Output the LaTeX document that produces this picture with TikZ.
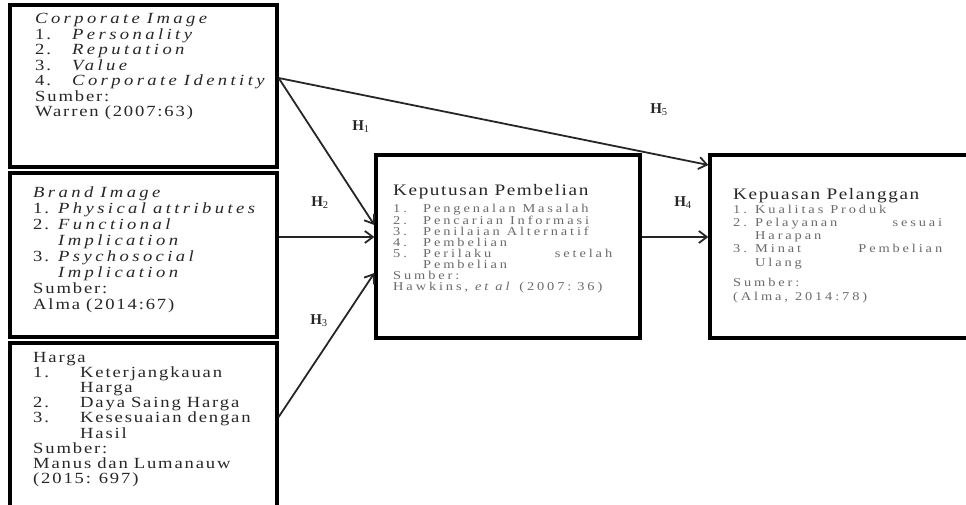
\documentclass[tikz,border=0pt]{standalone}
\usepackage{fontspec}
\usepackage{xcolor}
\usetikzlibrary{arrows.meta}
\newfontfamily\boxfont[FakeStretch=1.2,LetterSpace=12]{Liberation Serif}
\newfontfamily\labfont{Liberation Serif}
\definecolor{inkdark}{HTML}{262626}
\definecolor{inkgray}{HTML}{6A6A6A}
% item helper: indent width, number, text
\newcommand{\itm}[3]{\makebox[#1][l]{#2}#3}
% spaced italic as in the left boxes
\newcommand{\wideit}[1]{{\itshape\addfontfeature{LetterSpace=22}\spaceskip=7pt\relax#1}}
% small grey list font of the right boxes
\newcommand{\itemfont}[1]{\boxfont\fontsize{12}{#1}\selectfont
    \addfontfeature{LetterSpace=24}}

\begin{document}
\begin{tikzpicture}[x=1pt, y=-1pt,
    panel/.style={
        rectangle, draw=black, line width=3.3pt, inner sep=0pt,
        anchor=center
    },
    boxtext/.style={anchor=base west, inner sep=0pt, align=left,
        text=inkdark, text width=#1,
        execute at begin node={\spaceskip=6pt\relax}},
    boxtext/.default=250pt,
    headtext/.style={anchor=base west, inner sep=0pt, text=inkdark,
        font=\boxfont\fontsize{16}{16}\selectfont\addfontfeature{LetterSpace=10}},
    itemtext/.style={boxtext=225pt, text=inkgray, font=\itemfont{#1},
        execute at begin node={\spaceskip=7pt\relax}},
    link/.style={line width=1.8pt, draw=black!85,
        -{Straight Barb[length=8pt,width=12pt]}},
    hlab/.style={font=\labfont\fontsize{15}{15}\selectfont\bfseries,
        text=black!85, inner sep=0pt}
]
\useasboundingbox (0,0) rectangle (966,505);

% --- Boxes
\node[panel, minimum width=267pt, minimum height=162pt] (ci) at (143.5, 86) {};
\node[panel, minimum width=267pt, minimum height=164pt] (bi) at (143.5, 255) {};
\node[panel, minimum width=267pt, minimum height=177pt] (hg) at (143.5, 431.5) {};
\node[panel, minimum width=264pt, minimum height=183pt] (kp) at (508, 246.5) {};
\node[panel, minimum width=265pt, minimum height=183pt] (kl) at (842.5, 246.5) {};

% --- Left box texts
\node[boxtext, font=\boxfont\fontsize{15.5}{15.5}\selectfont] (ci-txt) at (35, 24) {%
    \wideit{Corporate Image}\\
    \itm{37pt}{1.}{\wideit{Personality}}\\
    \itm{37pt}{2.}{\wideit{Reputation}}\\
    \itm{37pt}{3.}{\wideit{Value}}\\
    \itm{37pt}{4.}{\wideit{Corporate Identity}}\\
    Sumber:\\
    Warren (2007:63)};

\node[boxtext, font=\boxfont\fontsize{15.5}{16.1}\selectfont] (bi-txt) at (33, 197) {%
    \wideit{Brand Image}\\
    \itm{25pt}{1.}{\wideit{Physical attributes}}\\
    \itm{25pt}{2.}{\wideit{Functional}}\\
    \itm{25pt}{}{\wideit{Implication}}\\
    \itm{25pt}{3.}{\wideit{Psychosocial}}\\
    \itm{25pt}{}{\wideit{Implication}}\\
    Sumber:\\
    Alma (2014:67)};

\node[boxtext, font=\boxfont\fontsize{15.5}{15.2}\selectfont] (hg-txt) at (33, 362) {%
    Harga\\
    \itm{47pt}{1.}{Keterjangkauan}\\
    \itm{47pt}{}{Harga}\\
    \itm{47pt}{2.}{Daya Saing Harga}\\
    \itm{47pt}{3.}{Kesesuaian dengan}\\
    \itm{47pt}{}{Hasil}\\
    Sumber:\\
    Manus dan Lumanauw\\
    (2015: 697)};

% --- Right box texts
\node[headtext] (kp-head) at (393, 196) {Keputusan Pembelian};
\node[itemtext=11] (kp-txt) at (393, 212) {%
    \itm{30pt}{1.}{Pengenalan Masalah}\\
    \itm{30pt}{2.}{Pencarian Informasi}\\
    \itm{30pt}{3.}{Penilaian Alternatif}\\
    \itm{30pt}{4.}{Pembelian}\\
    \makebox[219pt][s]{\makebox[30pt][l]{5.}Perilaku\hfill setelah}\\
    \itm{30pt}{}{Pembelian}\\
    Sumber:\\
    Hawkins, \textit{et al} (2007: 36)};

\node[headtext] (kl-head) at (733, 200) {Kepuasan Pelanggan};
\node[itemtext=13] (kl-txt) at (733, 214) {%
    \itm{22pt}{1.}{Kualitas Produk}\\
    \makebox[209pt][s]{\makebox[22pt][l]{2.}Pelayanan\hfill sesuai}\\
    \itm{22pt}{}{Harapan}\\
    \makebox[209pt][s]{\makebox[22pt][l]{3.}Minat\hfill Pembelian}\\
    \itm{22pt}{}{Ulang}\\[8pt]
    Sumber:\\
    (Alma, 2014:78)};

% --- Connector ends
\coordinate (ci-out) at ([yshift=8pt]ci.east);
\coordinate (hg-out) at ([yshift=14.5pt]hg.east);
\coordinate (kp-in1) at ([yshift=21.5pt]kp.west);
\coordinate (kp-in2) at ([yshift=9.5pt]kp.west);
\coordinate (kp-in3) at ([yshift=-26.5pt]kp.west);
\coordinate (kl-in1) at ([yshift=81.5pt]kl.west);

% --- Hypothesis arrows
\draw[link] (ci-out) -- (kp-in1);
\draw[link] (ci-out) -- (kl-in1);
\draw[link] (kp-in2 -| bi.east) -- (kp-in2);
\draw[link] (hg-out) -- (kp-in3);
\draw[link] (kp-in2 -| kp.east) -- (kp-in2 -| kl.west);

% --- Labels
\node[hlab] (h1) at (361, 127) {H\textsubscript{\mdseries 1}};
\node[hlab] (h2) at (320, 203) {H\textsubscript{\mdseries 2}};
\node[hlab] (h3) at (319, 321) {H\textsubscript{\mdseries 3}};
\node[hlab] (h4) at (683, 203) {H\textsubscript{\mdseries 4}};
\node[hlab] (h5) at (659, 110) {H\textsubscript{\mdseries 5}};
\end{tikzpicture}
\end{document}
